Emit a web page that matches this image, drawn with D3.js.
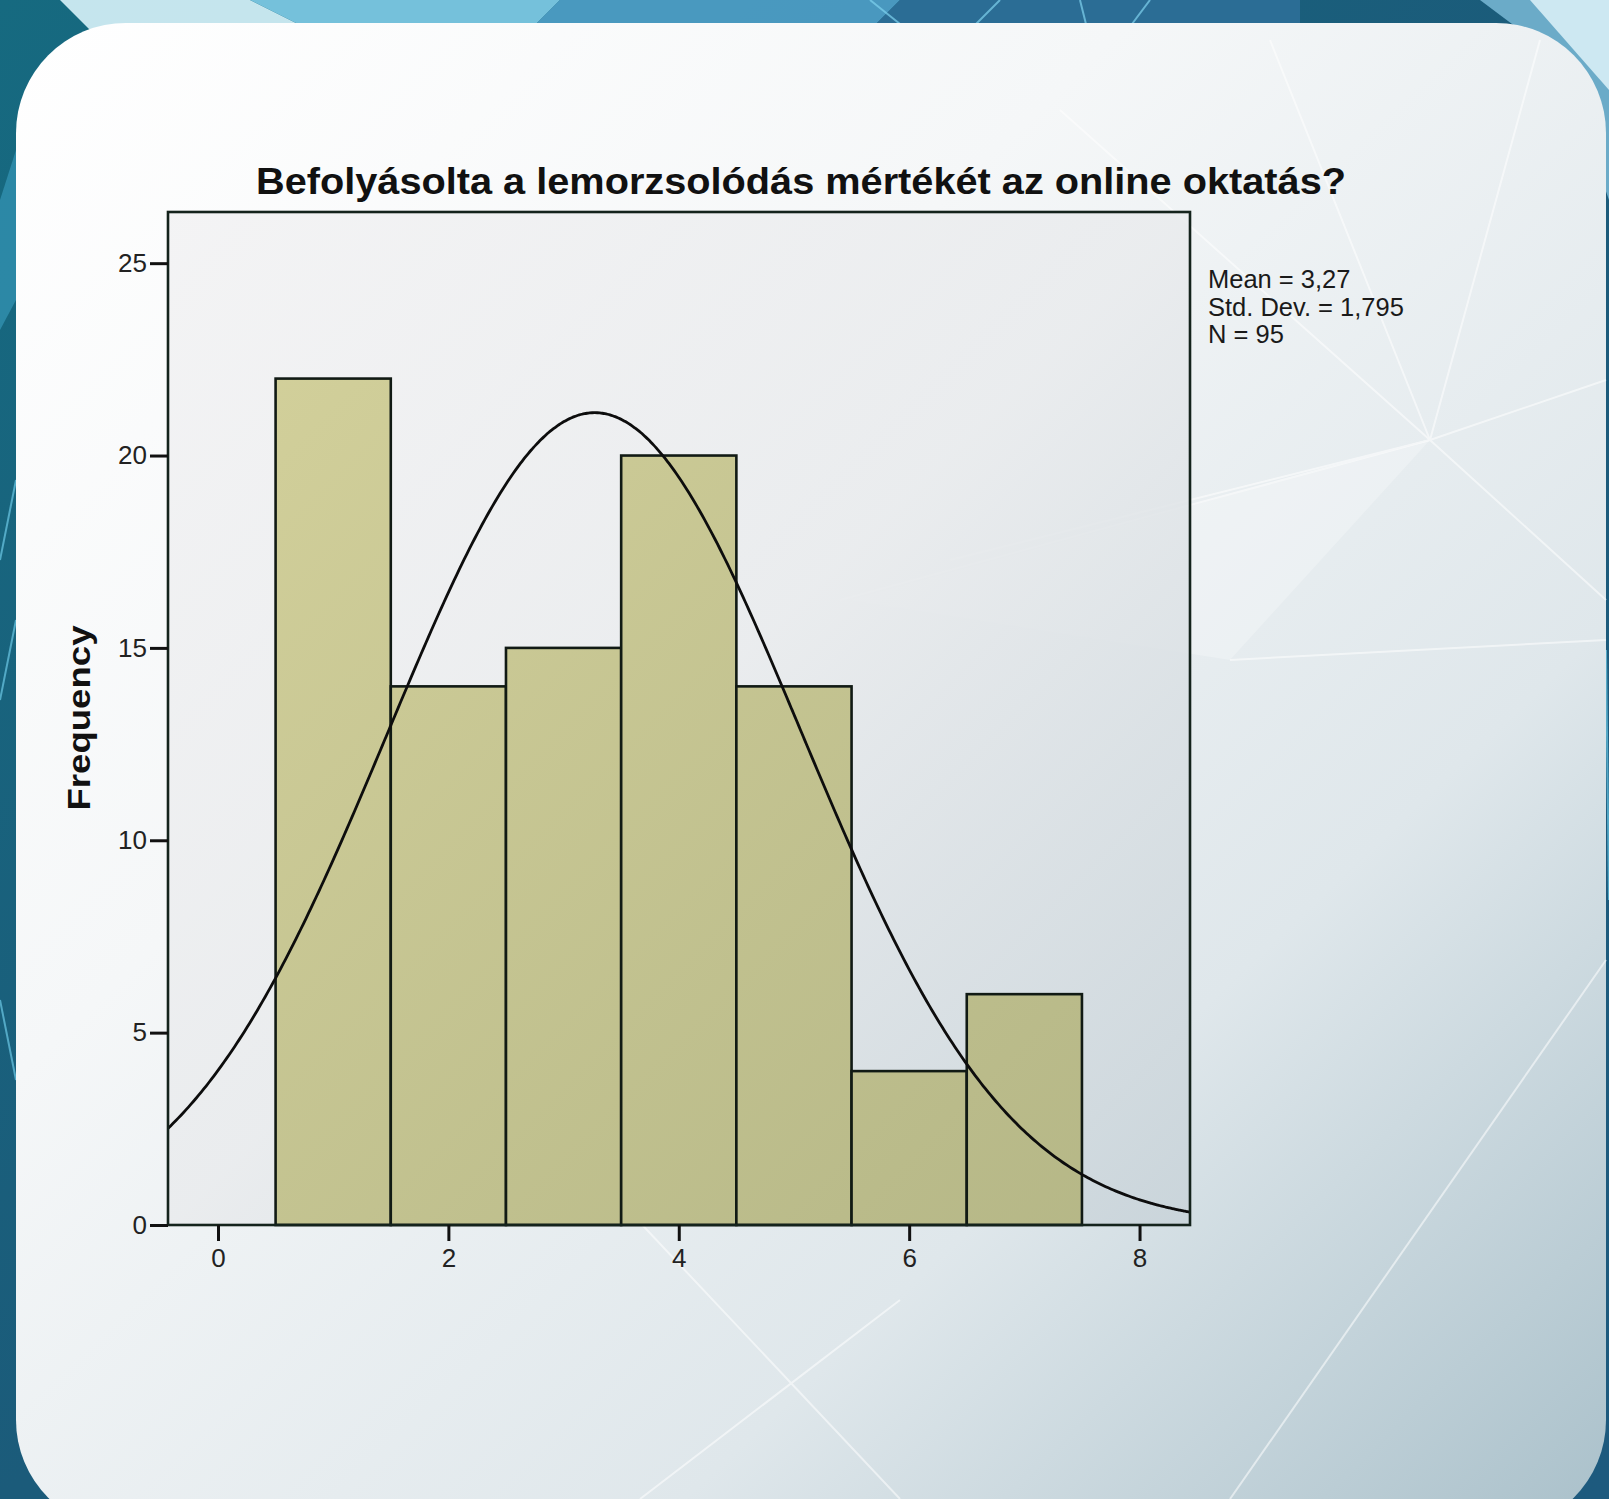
<!DOCTYPE html>
<html>
<head>
<meta charset="utf-8">
<script src="https://cdn.jsdelivr.net/npm/d3@7/dist/d3.min.js"></script>
<style>
  html, body { margin: 0; padding: 0; background: #1c5e78; }
  svg { display: block; }
</style>
</head>
<body>
<svg id="chart" width="1609" height="1499"></svg>
<script>
// ---- data ----
const binCenters = [1, 2, 3, 4, 5, 6, 7];
const frequencies = [22, 14, 15, 20, 14, 4, 6];
const binWidth = 1;
const xTicks = [0, 2, 4, 6, 8];
const yTicks = [0, 5, 10, 15, 20, 25];
const statMean = 3.27;
const statSd = 1.795;
const statN = 95;
const statsLabels = ["Mean = 3,27", "Std. Dev. = 1,795", "N = 95"];
const titleText = "Befolyásolta a lemorzsolódás mértékét az online oktatás?";
const yLabel = "Frequency";

// ---- layout ----
const W = 1609, H = 1499;
const frame = { left: 168, right: 1190, top: 212, bottom: 1225 };
const svg = d3.select("#chart");
const defs = svg.append("defs");

function lin(id, stops, x1, y1, x2, y2, user) {
  const g = defs.append("linearGradient").attr("id", id)
    .attr("x1", x1).attr("y1", y1).attr("x2", x2).attr("y2", y2);
  if (user) g.attr("gradientUnits", "userSpaceOnUse");
  stops.forEach(s => g.append("stop").attr("offset", s[0]).attr("stop-color", s[1]));
}
lin("outerG", [[0, "#166a80"], [0.5, "#1b5b7a"], [1, "#1d5a7e"]], 0, 0, 1, 1);
lin("cardG", [[0, "#ffffff"], [0.35, "#f5f7f8"], [0.7, "#dfe7eb"], [1, "#a9c0ca"]], 0, 0, 1, 1);
lin("plotG", [[0, "#f2f2f3"], [0.5, "#e9ebed"], [1, "#c8d3d9"]], 0, 0, 1, 1);
lin("barG", [[0, "#d6d39d"], [1, "#b4b686"]], frame.left, frame.top, frame.right, frame.bottom, true);

// ---- background ----
svg.append("rect").attr("width", W).attr("height", H).attr("fill", "url(#outerG)");
const deco = svg.append("g");
deco.append("polygon").attr("points", "60,0 250,0 330,40 120,60").attr("fill", "#d8f3fa").attr("opacity", 0.9);
deco.append("polygon").attr("points", "250,0 560,0 520,40 330,40").attr("fill", "#7fcbe6").attr("opacity", 0.9);
deco.append("polygon").attr("points", "560,0 900,0 860,40 520,40").attr("fill", "#4f9fc6").attr("opacity", 0.9);
deco.append("polygon").attr("points", "900,0 1300,0 1300,40 860,40").attr("fill", "#2d6f98").attr("opacity", 0.9);
deco.append("polygon").attr("points", "1480,0 1609,0 1609,200 1560,60").attr("fill", "#7fbfdc").attr("opacity", 0.8);
deco.append("polygon").attr("points", "1530,0 1609,0 1609,90").attr("fill", "#d8eef6").attr("opacity", 0.9);
deco.append("polygon").attr("points", "0,200 16,150 16,300 0,330").attr("fill", "#3b9fc0").attr("opacity", 0.6);
[[0, 700, 16, 620], [0, 1000, 16, 1080], [1606, 650, 1609, 900], [0, 560, 16, 480]].forEach(l =>
  deco.append("line").attr("x1", l[0]).attr("y1", l[1]).attr("x2", l[2]).attr("y2", l[3])
    .attr("stroke", "#6cc9e6").attr("stroke-width", 2).attr("opacity", 0.7));
[[870, 0, 920, 40], [1000, 0, 960, 40], [1080, 0, 1090, 40], [1150, 0, 1120, 40]].forEach(l =>
  deco.append("line").attr("x1", l[0]).attr("y1", l[1]).attr("x2", l[2]).attr("y2", l[3])
    .attr("stroke", "#7fd3ef").attr("stroke-width", 2).attr("opacity", 0.7));

// card
svg.append("rect").attr("x", 16).attr("y", 23).attr("width", 1590).attr("height", 1507)
  .attr("rx", 110).attr("ry", 110).attr("fill", "url(#cardG)");
// faint network lines on card
const net = svg.append("g").attr("stroke", "#ffffff").attr("stroke-width", 2).attr("opacity", 0.55).attr("fill", "none");
[[1430, 440, 1540, 40], [1430, 440, 1606, 380], [1430, 440, 1270, 40], [1430, 440, 1606, 600],
 [1430, 440, 950, 560], [1430, 440, 1060, 110], [840, 600, 1430, 440], [1230, 660, 1606, 640],
 [640, 1499, 900, 1300], [1230, 1499, 1606, 960], [900, 1499, 600, 1180]].forEach(l =>
  net.append("line").attr("x1", l[0]).attr("y1", l[1]).attr("x2", l[2]).attr("y2", l[3]));
svg.append("polygon").attr("points", "850,600 1430,440 1230,660").attr("fill", "#ffffff").attr("opacity", 0.25);

// ---- scales ----
const x = d3.scaleLinear().domain([-0.434, 8.438]).range([frame.left, frame.right]);
const y = d3.scaleLinear().domain([0, 26.33]).range([frame.bottom, frame.top]);

// plot background
svg.append("rect").attr("x", frame.left).attr("y", frame.top)
  .attr("width", frame.right - frame.left).attr("height", frame.bottom - frame.top)
  .attr("fill", "url(#plotG)").attr("opacity", 0.85);

// bars
svg.append("g").selectAll("rect").data(binCenters).join("rect")
  .attr("x", (d) => x(d - binWidth / 2))
  .attr("y", (d, i) => y(frequencies[i]))
  .attr("width", (d) => x(d + binWidth / 2) - x(d - binWidth / 2))
  .attr("height", (d, i) => y(0) - y(frequencies[i]))
  .attr("fill", "url(#barG)")
  .attr("stroke", "#111a14").attr("stroke-width", 2.6);

// fitted normal curve (from the stated mean, std. dev. and N)
const curveXs = d3.range(0, 401).map(i => x.domain()[0] + (x.domain()[1] - x.domain()[0]) * i / 400);
const pdf = v => statN * binWidth * Math.exp(-0.5 * Math.pow((v - statMean) / statSd, 2)) / (statSd * Math.sqrt(2 * Math.PI));
svg.append("path").datum(curveXs)
  .attr("d", d3.line().x(v => x(v)).y(v => y(pdf(v))).curve(d3.curveBasis))
  .attr("fill", "none").attr("stroke", "#0d0d0d").attr("stroke-width", 2.8);

// frame
svg.append("rect").attr("x", frame.left).attr("y", frame.top)
  .attr("width", frame.right - frame.left).attr("height", frame.bottom - frame.top)
  .attr("fill", "none").attr("stroke", "#14231c").attr("stroke-width", 2.6);

// axes
const axFont = "'Liberation Sans', Arial, sans-serif";
const yAxis = svg.append("g").attr("transform", `translate(${frame.left},0)`)
  .call(d3.axisLeft(y).tickValues(yTicks).tickSize(18).tickPadding(3).tickFormat(d3.format("d")));
yAxis.select(".domain").remove();
yAxis.selectAll(".tick line").attr("stroke", "#111").attr("stroke-width", 3);
yAxis.selectAll(".tick text").attr("font-family", axFont).attr("font-size", 26).attr("fill", "#222");

const xAxis = svg.append("g").attr("transform", `translate(0,${frame.bottom})`)
  .call(d3.axisBottom(x).tickValues(xTicks).tickSize(16).tickPadding(8).tickFormat(d3.format("d")));
xAxis.select(".domain").remove();
xAxis.selectAll(".tick line").attr("stroke", "#111").attr("stroke-width", 3);
xAxis.selectAll(".tick text").attr("font-family", axFont).attr("font-size", 26).attr("fill", "#222");

// title
svg.append("text").attr("x", 801).attr("y", 194).attr("text-anchor", "middle")
  .attr("font-family", axFont).attr("font-weight", "bold").attr("font-size", 37)
  .attr("textLength", 1090).attr("lengthAdjust", "spacingAndGlyphs")
  .attr("fill", "#111").text(titleText);

// y label
svg.append("text").attr("transform", "translate(90,718) rotate(-90)").attr("text-anchor", "middle")
  .attr("font-family", axFont).attr("font-weight", "bold").attr("font-size", 31)
  .attr("textLength", 185).attr("lengthAdjust", "spacingAndGlyphs")
  .attr("fill", "#111").text(yLabel);

// stats
svg.append("g").selectAll("text").data(statsLabels).join("text")
  .attr("x", 1208).attr("y", (d, i) => 288 + i * 27.5)
  .attr("font-family", axFont).attr("font-size", 25.5).attr("fill", "#1a1a1a")
  .text(d => d);
</script>
</body>
</html>
